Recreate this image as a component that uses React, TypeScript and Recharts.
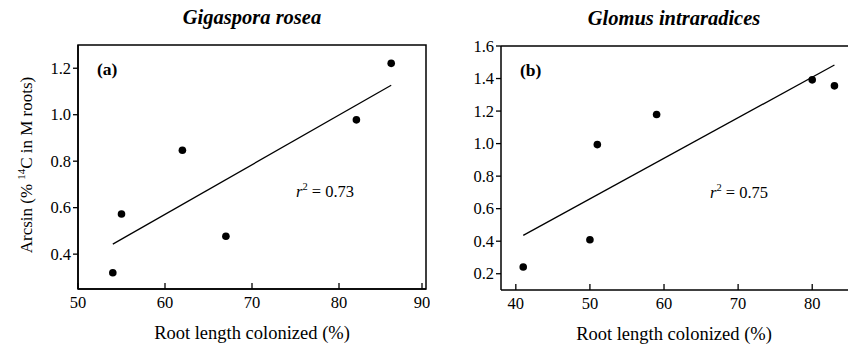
import React from 'react';
import {
    ScatterChart, Scatter, XAxis, YAxis, ReferenceArea, ReferenceLine, Label,
} from 'recharts';

// (a) Gigaspora rosea
const roseaX = [54, 55, 62, 67, 82, 86];
const roseaY = [0.32, 0.573, 0.847, 0.477, 0.978, 1.221];
const roseaFit = [{ x: 54, y: 0.443 }, { x: 86, y: 1.127 }];
const roseaXTicks = [50, 60, 70, 80, 90];
const roseaYTicks = [0.4, 0.6, 0.8, 1.0, 1.2];

// (b) Glomus intraradices
const intraX = [41, 50, 51, 59, 80, 83];
const intraY = [0.241, 0.409, 0.994, 1.179, 1.392, 1.355];
const intraFit = [{ x: 41, y: 0.436 }, { x: 83, y: 1.483 }];
const intraXTicks = [40, 50, 60, 70, 80];
const intraYTicks = [0.2, 0.4, 0.6, 0.8, 1.0, 1.2, 1.4, 1.6];

const FONT = '"Liberation Serif", "DejaVu Serif", serif';
const serif = { fontFamily: FONT };

const toPoints = (xs: number[], ys: number[]) => xs.map((x, i) => ({ x, y: ys[i] }));

const Dot = (props: any) => <circle cx={props.cx} cy={props.cy} r={3.8} fill="#000" />;

const XTick = (props: any) => {
    const { x, y, payload } = props;
    return (
        <g>
            <line x1={x} x2={x} y1={y} y2={y - 6} stroke="#000" strokeWidth={1.3} />
            <text x={x} y={y + 19} textAnchor="middle" fontSize={16.5} style={serif} fill="#000">
                {payload.value}
            </text>
        </g>
    );
};

const YTick = (props: any) => {
    const { x, y, payload } = props;
    return (
        <text x={x} y={y} dy={5.5} textAnchor="end" fontSize={16.5} style={serif} fill="#000">
            {Number(payload.value).toFixed(1)}
        </text>
    );
};

const panelText = (title: string, tag: string, r2: string, titleDx: number, r2Dx: number) =>
    (props: any) => {
        const vb = props.viewBox || {};
        const left = vb.x;
        const top = vb.y;
        return (
            <g fill="#000">
                <text x={left + titleDx} y={top - 21} textAnchor="middle" fontSize={20.5}
                    fontWeight="bold" fontStyle="italic" style={serif}>{title}</text>
                <text x={left + 19} y={top + 30} fontSize={17.5} fontWeight="bold" style={serif}>{tag}</text>
                <text x={left + r2Dx} y={top + 152} fontSize={16.5} style={serif}>
                    <tspan fontStyle="italic">r</tspan>
                    <tspan fontSize={10.5} dy={-7}>2</tspan>
                    <tspan dy={7}>{' = ' + r2}</tspan>
                </text>
            </g>
        );
    };

const XTitle = (props: any) => {
    const vb = props.viewBox || {};
    return (
        <text x={vb.x + vb.width / 2} y={vb.y + 49.5} textAnchor="middle" fontSize={18.5}
            style={serif} fill="#000">Root length colonized (%)</text>
    );
};

const YTitle = (props: any) => {
    const vb = props.viewBox || {};
    const cx = vb.x - 6;
    const cy = vb.y + vb.height / 2 - 2;
    return (
        <text x={cx} y={cy} transform={`rotate(-90 ${cx} ${cy})`} textAnchor="middle"
            fontSize={17} style={serif} fill="#000">
            <tspan>Arcsin (%</tspan>
            <tspan fontSize={11} dx={4} dy={-7}>14</tspan>
            <tspan dy={7}>C in M roots)</tspan>
        </text>
    );
};

export default function App() {
    return (
        <div style={{ position: 'fixed', left: 0, top: 0, width: 848, height: 345, overflow: 'hidden', background: '#fff', fontFamily: FONT }}>
            <div style={{ position: 'absolute', left: 0, top: 0, width: 430, height: 345 }}>
                <ScatterChart width={430} height={345} margin={{ top: 45, right: 4, bottom: 26, left: 38 }}>
                    <XAxis type="number" dataKey="x" domain={[50, 90]} ticks={roseaXTicks} allowDataOverflow
                        height={30} tickSize={0} tickMargin={0} tickLine={false} tick={<XTick />}
                        axisLine={{ stroke: '#000', strokeWidth: 1.5 }}>
                        <Label content={<XTitle />} />
                    </XAxis>
                    <YAxis type="number" dataKey="y" domain={[0.25, 1.3]} ticks={roseaYTicks} allowDataOverflow
                        width={40} tickSize={5} tickMargin={2} tick={<YTick />}
                        tickLine={{ stroke: '#000', strokeWidth: 1.3 }}
                        axisLine={{ stroke: '#000', strokeWidth: 1.5 }}>
                        <Label content={<YTitle />} />
                    </YAxis>
                    <ReferenceArea x1={50} x2={90} y1={0.25} y2={1.3} fill="none" stroke="#000"
                        strokeWidth={1.5} ifOverflow="visible"
                        label={panelText('Gigaspora rosea', '(a)', '0.73', 174, 218)} />
                    <ReferenceLine segment={roseaFit} stroke="#000" strokeWidth={1.3} />
                    <Scatter data={toPoints(roseaX, roseaY)} shape={<Dot />} isAnimationActive={false} />
                </ScatterChart>
            </div>
            <div style={{ position: 'absolute', left: 430, top: 0, width: 418, height: 345 }}>
                <ScatterChart width={418} height={345} margin={{ top: 46, right: 0, bottom: 25, left: 31 }}>
                    <XAxis type="number" dataKey="x" domain={[38, 84.83]} ticks={intraXTicks} allowDataOverflow
                        height={30} tickSize={0} tickMargin={0} tickLine={false} tick={<XTick />}
                        axisLine={{ stroke: '#000', strokeWidth: 1.5 }}>
                        <Label content={(p: any) => <XTitle viewBox={{ ...p.viewBox, width: 346 }} />} />
                    </XAxis>
                    <YAxis type="number" dataKey="y" domain={[0.1, 1.6]} ticks={intraYTicks} allowDataOverflow
                        width={40} tickSize={5} tickMargin={2} tick={<YTick />}
                        tickLine={{ stroke: '#000', strokeWidth: 1.3 }}
                        axisLine={{ stroke: '#000', strokeWidth: 1.5 }} />
                    <ReferenceArea x1={38} x2={84.83} y1={0.1} y2={1.6} fill="none" stroke="none"
                        ifOverflow="visible"
                        label={panelText('Glomus intraradices', '(b)', '0.75', 173, 209)} />
                    <ReferenceLine y={1.6} stroke="#000" strokeWidth={1.5} ifOverflow="visible" />
                    <ReferenceLine segment={intraFit} stroke="#000" strokeWidth={1.3} />
                    <Scatter data={toPoints(intraX, intraY)} shape={<Dot />} isAnimationActive={false} />
                </ScatterChart>
            </div>
        </div>
    );
}
